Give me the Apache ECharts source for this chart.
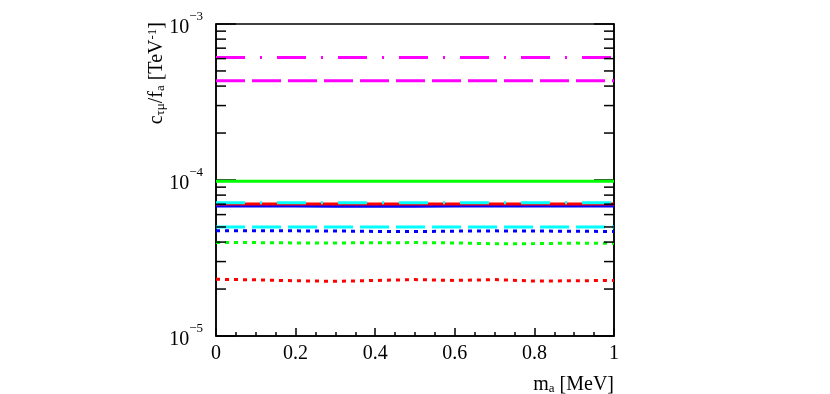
<!DOCTYPE html>
<html>
<head>
<meta charset="utf-8">
<script src="https://cdn.jsdelivr.net/npm/echarts@6/dist/echarts.min.js"></script>
<style>
html, body { margin: 0; padding: 0; background: #fff; }
#main { width: 830px; height: 394px; }
</style>
</head>
<body>
<div id="main"></div>
<script>
// x positions of the sampled points (MeV)
var massPoints = [0, 0.1, 0.2, 0.3, 0.4, 0.5, 0.6, 0.7, 0.8, 0.9, 1];

// c/f limits (TeV^-1)
var magentaDashDot = [6.11e-4, 6.11e-4, 6.11e-4, 6.11e-4, 6.11e-4, 6.11e-4, 6.11e-4, 6.11e-4, 6.11e-4, 6.11e-4, 6.11e-4];
var magentaDashed = [4.32e-4, 4.32e-4, 4.32e-4, 4.32e-4, 4.32e-4, 4.32e-4, 4.32e-4, 4.32e-4, 4.32e-4, 4.32e-4, 4.32e-4];
var greenSolid = [9.82e-5, 9.82e-5, 9.82e-5, 9.82e-5, 9.81e-5, 9.82e-5, 9.82e-5, 9.82e-5, 9.82e-5, 9.82e-5, 9.82e-5];
var cyanDashDot = [7.16e-5, 7.16e-5, 7.16e-5, 7.16e-5, 7.16e-5, 7.16e-5, 7.16e-5, 7.16e-5, 7.16e-5, 7.16e-5, 7.16e-5];
var redSolid = [7.02e-5, 7.02e-5, 7.02e-5, 7.02e-5, 7.02e-5, 7.02e-5, 7.02e-5, 7.02e-5, 7.02e-5, 7.02e-5, 7.02e-5];
var blueSolid = [6.81e-5, 6.81e-5, 6.81e-5, 6.80e-5, 6.80e-5, 6.80e-5, 6.81e-5, 6.81e-5, 6.81e-5, 6.81e-5, 6.81e-5];
var cyanDashed = [4.99e-5, 4.99e-5, 4.99e-5, 4.99e-5, 4.99e-5, 4.99e-5, 4.99e-5, 4.99e-5, 4.99e-5, 4.99e-5, 4.99e-5];
var blueDotted = [4.73e-5, 4.73e-5, 4.72e-5, 4.71e-5, 4.68e-5, 4.67e-5, 4.70e-5, 4.72e-5, 4.71e-5, 4.69e-5, 4.68e-5];
var greenDotted = [3.98e-5, 3.97e-5, 3.95e-5, 3.95e-5, 3.96e-5, 3.97e-5, 3.95e-5, 3.90e-5, 3.91e-5, 3.94e-5, 3.93e-5];
var redDotted = [2.31e-5, 2.29e-5, 2.26e-5, 2.24e-5, 2.27e-5, 2.30e-5, 2.27e-5, 2.30e-5, 2.25e-5, 2.26e-5, 2.27e-5];

// minor ticks of the log axis
var minorTickValues = [2e-5, 3e-5, 4e-5, 5e-5, 6e-5, 7e-5, 8e-5, 9e-5,
	2e-4, 3e-4, 4e-4, 5e-4, 6e-4, 7e-4, 8e-4, 9e-4];

var FONT = '"Liberation Serif", "DejaVu Serif", serif';

function pairs(ys) {
	return massPoints.map(function (x, i) { return [x, ys[i]]; });
}

function curve(name, ys, color, dash, z) {
	return {
		name: name,
		type: 'line',
		data: pairs(ys),
		symbol: 'none',
		smooth: false,
		z: z,
		lineStyle: { color: color, width: 3, type: dash }
	};
}

function powLabel(v) {
	var e = Math.round(Math.log(v) / Math.LN10);
	return '{b|10}{s|' + (e < 0 ? '\u2212' : '') + Math.abs(e) + '}';
}

var yLog = {
	type: 'log',
	logBase: 10,
	min: 1e-5,
	max: 1e-3,
	splitLine: { show: false },
	axisLine: { show: true, lineStyle: { color: '#000', width: 1.5 } },
	axisTick: { show: true, inside: true, length: 20, lineStyle: { color: '#000', width: 1.5 } }
};

var chart = echarts.init(document.getElementById('main'));

var option = {
	animation: false,
	backgroundColor: '#fff',
	grid: {
		left: 216, right: 216, top: 24, bottom: 58,
		containLabel: false,
		outerBoundsMode: 'none',
		show: true, borderColor: '#000', borderWidth: 1.5
	},
	xAxis: [{
		type: 'value',
		min: 0,
		max: 1,
		interval: 0.2,
		splitLine: { show: false },
		axisLine: { show: true, lineStyle: { color: '#000', width: 1.5 } },
		axisTick: { show: true, inside: true, length: 8, lineStyle: { color: '#000', width: 1.5 } },
		minorTick: { show: true, splitNumber: 4, length: 4, lineStyle: { color: '#000', width: 1.5 } },
		axisLabel: { color: '#000', fontFamily: FONT, fontSize: 20, margin: 8 },
		name: 'm{sub|a} [MeV]',
		nameLocation: 'end',
		nameGap: 0,
		nameMoveOverlap: false,
		nameTextStyle: {
			color: '#000', fontFamily: FONT, fontSize: 20,
			align: 'right', verticalAlign: 'top', padding: [38, 0, 0, 0],
			rich: { sub: { fontFamily: FONT, fontSize: 13, verticalAlign: 'bottom', padding: [8, 0, 0, 0] } }
		}
	}],
	yAxis: [
		Object.assign({}, yLog, {
			position: 'left',
			axisLabel: {
				color: '#000', margin: 13, formatter: powLabel,
				rich: {
					b: { fontFamily: FONT, fontSize: 20, color: '#000', padding: [8, 0, 0, 0] },
					s: { fontFamily: FONT, fontSize: 13, color: '#000', verticalAlign: 'top' }
				}
			},
			name: 'c{sub|\u03c4\u03bc}/f{sub|a} [TeV{sup|-1}]',
			nameLocation: 'end',
			nameGap: 2,
			nameRotate: 90,
			nameMoveOverlap: false,
			nameTextStyle: {
				color: '#000', fontFamily: FONT, fontSize: 20,
				align: 'right', verticalAlign: 'bottom', padding: [0, 0, 49, 0],
				rich: {
					sub: { fontFamily: FONT, fontSize: 13, verticalAlign: 'bottom', padding: [8, 0, 0, 0] },
					sup: { fontFamily: FONT, fontSize: 13, verticalAlign: 'top' }
				}
			}
		}),
		Object.assign({}, yLog, {
			position: 'right',
			axisLabel: { show: false }
		})
	],
	series: [
		curve('magenta dash-dot', magentaDashDot, '#ff00ff', [29, 15, 2, 15], 2),
		curve('magenta dashed', magentaDashed, '#ff00ff', [29, 7], 2),
		curve('green solid', greenSolid, '#00ff00', 'solid', 2),
		curve('blue solid', blueSolid, '#0000ff', 'solid', 2),
		curve('red solid', redSolid, '#ff0000', 'solid', 3),
		curve('cyan dash-dot', cyanDashDot, '#00ffff', [29, 15, 2, 15], 4),
		curve('cyan dashed', cyanDashed, '#00ffff', [29, 7], 2),
		curve('blue dotted', blueDotted, '#0000ff', [4, 5], 2),
		curve('green dotted', greenDotted, '#00ff00', [4, 5], 2),
		curve('red dotted', redDotted, '#ff0000', [4, 5], 2),
		{
			// minor ticks on both sides of the log axis
			type: 'custom',
			silent: true,
			z: 5,
			data: minorTickValues.map(function (v) { return [0, v]; }),
			renderItem: function (params, api) {
				var v = api.value(1);
				var l = api.coord([0, v]);
				var r = api.coord([1, v]);
				return {
					type: 'group',
					children: [
						{ type: 'line', shape: { x1: l[0], y1: l[1], x2: l[0] + 10, y2: l[1] }, style: { stroke: '#000', lineWidth: 1.5 } },
						{ type: 'line', shape: { x1: r[0], y1: r[1], x2: r[0] - 10, y2: r[1] }, style: { stroke: '#000', lineWidth: 1.5 } }
					]
				};
			}
		}
	]
};

chart.setOption(option);
</script>
</body>
</html>
